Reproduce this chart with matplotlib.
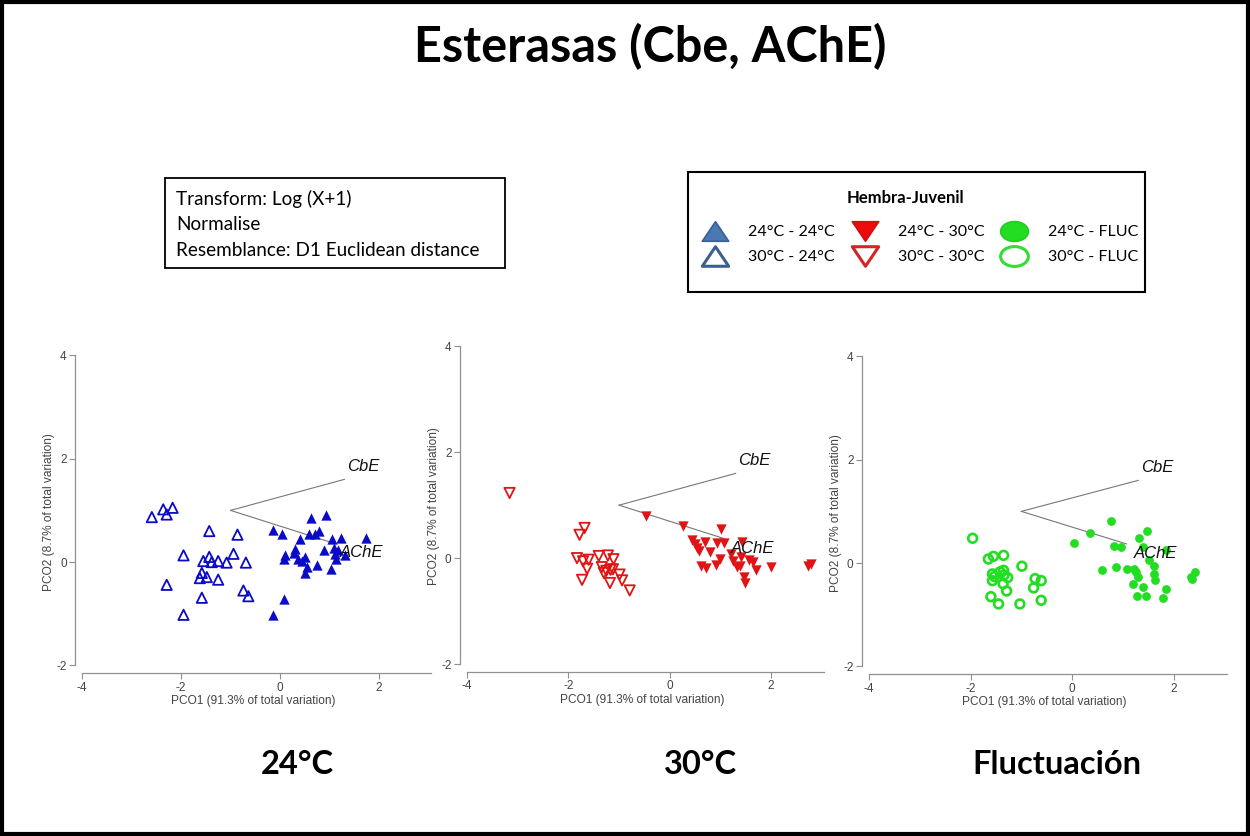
import matplotlib
matplotlib.use("Agg")
import matplotlib.pyplot as plt
from matplotlib.lines import Line2D
from matplotlib.patches import Rectangle
from matplotlib.path import Path
from matplotlib.transforms import Affine2D

plt.rcParams['axes.unicode_minus'] = False

# PCO scores, one pair of lists per group (x = PCO1, y = PCO2)
t24_24_x = [-0.15, 0.03, -0.15, 0.07, 0.10, 0.09, 0.30, 0.28, 0.40, 0.37, 0.44, 0.51, 0.54, 0.51,
            0.63, 0.59, 0.71, 0.79, 0.93, 0.75, 0.89, 1.03, 1.04, 1.09, 1.11, 1.18, 1.23, 1.14, 1.31, 1.74]
t24_24_y = [0.63, 0.55, -1.03, -0.71, 0.13, 0.06, 0.26, 0.17, 0.44, 0.06, 0.02, 0.10, -0.10, -0.21,
            0.85, 0.55, 0.55, 0.60, 0.92, -0.05, 0.24, -0.14, 0.44, 0.28, 0.16, 0.24, 0.47, 0.06, 0.13, 0.47]
t30_24_x = [-2.59, -2.36, -2.29, -2.17, -1.95, -2.29, -1.95, -1.43, -1.43, -1.55, -1.38, -1.25,
            -1.08, -1.58, -1.62, -1.48, -1.25, -1.58, -0.94, -0.86, -0.69, -0.74, -0.64]
t30_24_y = [0.87, 1.02, 0.92, 1.05, 0.13, -0.44, -1.02, 0.60, 0.10, 0.02, 0.00, 0.02,
            -0.01, -0.21, -0.31, -0.29, -0.34, -0.69, 0.16, 0.53, -0.01, -0.55, -0.66]

t24_30_x = [-0.47, 0.26, 0.44, 0.49, 0.53, 0.57, 0.70, 0.61, 0.72, 0.80, 0.93, 0.92, 0.99, 1.02,
            1.07, 1.20, 1.25, 1.38, 1.43, 1.41, 1.56, 1.64, 1.47, 1.49, 1.71, 1.99, 2.73, 2.79, 1.33]
t24_30_y = [0.79, 0.60, 0.35, 0.26, 0.19, 0.13, 0.30, -0.14, -0.18, 0.11, 0.28, -0.13, -0.02, 0.55,
            0.28, 0.08, -0.06, -0.14, 0.30, 0.03, -0.03, -0.08, -0.35, -0.47, -0.23, -0.16, -0.14, -0.12, -0.17]
t30_30_x = [-3.16, -1.78, -1.68, -1.83, -1.71, -1.60, -1.63, -1.73, -1.40, -1.22, -1.11, -1.34,
            -1.30, -1.17, -1.12, -1.18, -0.99, -0.94, -0.79, -1.25]
t30_30_y = [1.23, 0.44, 0.57, 0.00, -0.06, -0.03, -0.20, -0.41, 0.04, 0.05, -0.02, -0.17,
            -0.28, -0.22, -0.21, -0.47, -0.31, -0.42, -0.61, -0.24]

t24_fl_x = [0.03, 0.36, 0.76, 0.82, 0.96, 0.59, 0.87, 1.07, 1.22, 1.25, 1.30, 1.20, 1.27, 1.32,
            1.48, 1.40, 1.52, 1.40, 1.46, 1.61, 1.61, 1.63, 1.85, 1.85, 1.78, 2.33, 2.42, 2.35]
t24_fl_y = [0.39, 0.59, 0.81, 0.33, 0.31, -0.14, -0.08, -0.11, -0.11, -0.17, -0.27, -0.40, -0.64, 0.49,
            0.62, 0.31, 0.05, -0.46, -0.64, -0.06, -0.21, -0.32, 0.26, -0.50, -0.67, -0.27, -0.17, -0.30]
t30_fl_x = [-1.96, -1.65, -1.55, -1.35, -1.57, -1.53, -1.57, -1.35, -1.34, -1.27, -1.36, -1.29,
            -1.60, -1.45, -0.99, -0.73, -0.61, -0.76, -0.61, -1.03, -1.42]
t30_fl_y = [0.48, 0.08, 0.13, 0.15, -0.21, -0.26, -0.34, -0.14, -0.23, -0.28, -0.40, -0.54,
            -0.65, -0.79, -0.06, -0.30, -0.34, -0.48, -0.72, -0.79, -0.17]

# vector overlay (origin and tips of CbE / AChE)
vec_origin = (-1.0, 1.0)
vec_names = ['CbE', 'AChE']
vec_tips = [(1.30, 1.60), (1.07, 0.37)]
vec_labels = [(1.35, 1.84), (1.21, 0.19)]

panel_titles = ['24°C', '30°C', 'Fluctuación']
legend_labels = ['24°C - 24°C', '30°C - 24°C', '24°C - 30°C', '30°C - 30°C', '24°C - FLUC', '30°C - FLUC']
info_lines = ['Transform: Log (X+1)', 'Normalise', 'Resemblance: D1 Euclidean distance']

BLUE = '#0a0ac8'
RED = '#e01414'
GREEN = '#22dd22'

fig = plt.figure(figsize=(12.5, 8.36), dpi=100)

rects = [[0.0601, 0.1947, 0.2847, 0.3865],
         [0.3679, 0.1962, 0.2916, 0.3959],
         [0.6895, 0.1935, 0.2922, 0.3865]]

groups = [
    (t24_24_x, t24_24_y, t30_24_x, t30_24_y, '^', BLUE, 55),
    (t24_30_x, t24_30_y, t30_30_x, t30_30_y, 'v', RED, 55),
    (t24_fl_x, t24_fl_y, t30_fl_x, t30_fl_y, 'o', GREEN, 40),
]

for rect, (fx, fy, ox, oy, mk, col, size) in zip(rects, groups):
    ax = fig.add_axes(rect)
    ax.set_xlim(-4.14, 3.05)
    ax.set_ylim(-2.15, 4.1)
    for s in ['top', 'right']:
        ax.spines[s].set_visible(False)
    ax.spines['left'].set_bounds(-2, 4)
    ax.spines['bottom'].set_bounds(-4, 3.05)
    for s in ['left', 'bottom']:
        ax.spines[s].set_color('#909090')
        ax.spines[s].set_linewidth(0.9)
    ax.set_xticks([-4, -2, 0, 2])
    ax.set_yticks([-2, 0, 2, 4])
    ax.tick_params(colors='#909090', labelcolor='#444444', labelsize=8.5, length=4, width=0.8, pad=2)
    for lbl in ax.get_xticklabels() + ax.get_yticklabels():
        lbl.set_family('Liberation Sans')
    ax.set_xlabel('PCO1 (91.3% of total variation)', fontsize=8.6, color='#444444',
                  family='Liberation Sans', labelpad=1)
    ax.set_ylabel('PCO2 (8.7% of total variation)', fontsize=8.6, color='#444444',
                  family='Liberation Sans', labelpad=1)

    ax.scatter(ox, oy, marker=mk, s=size, facecolors='none', edgecolors=col,
               linewidths=1.3 if mk != 'o' else 1.9, zorder=3)
    ax.scatter(fx, fy, marker=mk, s=size, color=col, linewidths=0, zorder=3)

    for name, tip, pos in zip(vec_names, vec_tips, vec_labels):
        ax.plot([vec_origin[0], tip[0]], [vec_origin[1], tip[1]], color='#777777', lw=0.8, zorder=2)
        ax.text(pos[0], pos[1], name, fontsize=12, style='italic', family='Liberation Sans',
                va='center', ha='left', color='#111111', zorder=4)

# titles under each panel
for xc, title in zip([0.238, 0.560, 0.8456], panel_titles):
    fig.text(xc, 0.085, title, fontsize=23.5, weight='bold', family='Lato', ha='center', va='center')

fig.text(0.52, 1 - 47 / 836, 'Esterasas (Cbe, AChE)', fontsize=35, weight='bold', family='Lato',
         ha='center', va='center')

# info box
fig.patches.append(Rectangle((0.132, 0.6794), 0.272, 0.1077, transform=fig.transFigure,
                             facecolor='white', edgecolor='black', lw=1.3, figure=fig))
fig.text(0.1408, 1 - 190 / 836, '\n'.join(info_lines), fontsize=13.6, family='Lato', va='top',
         ha='left', linespacing=1.6)

# legend
ellipse = Path.unit_circle().transformed(Affine2D().scale(1.4, 1.0))
tri_up = Path([(-1.35, -1.0), (1.35, -1.0), (0.0, 1.0), (-1.35, -1.0)], closed=True)
tri_dn = Path([(-1.35, 1.0), (1.35, 1.0), (0.0, -1.0), (-1.35, 1.0)], closed=True)
handles = [
    Line2D([], [], ls='none', marker=tri_up, ms=19, mfc='#4a78b2', mec='#3a5f93', mew=1.2),
    Line2D([], [], ls='none', marker=tri_up, ms=19, mfc='white', mec='#3a5f93', mew=2.2),
    Line2D([], [], ls='none', marker=tri_dn, ms=19, mfc='#ee0a0a', mec='#d01010', mew=1.2),
    Line2D([], [], ls='none', marker=tri_dn, ms=19, mfc='white', mec='#d42424', mew=2.2),
    Line2D([], [], ls='none', marker=ellipse, ms=20, mfc='#22dd22', mec='#22cc22', mew=1.2),
    Line2D([], [], ls='none', marker=ellipse, ms=20, mfc='white', mec='#33dd33', mew=2.2),
]
fig.patches.append(Rectangle((0.5504, 0.6507), 0.3656, 0.1435, transform=fig.transFigure,
                             facecolor='white', edgecolor='black', lw=1.5, figure=fig))
fig.text(0.724, 1 - 198 / 836, 'Hembra-Juvenil', fontsize=12, weight='bold', family='Lato',
         ha='center', va='center')
fig.legend(handles, legend_labels, ncol=3, loc='upper left', bbox_to_anchor=(698 / 1250, 1 - 225 / 836),
           frameon=False, prop={'family': 'Lato', 'size': 11.5}, borderpad=0, borderaxespad=0,
           handlelength=2.1, handletextpad=1.05, columnspacing=0.8, labelspacing=0.68)

# outer frame
fig.patches.append(Rectangle((0.0015, 0.002), 0.997, 0.9955, transform=fig.transFigure,
                             facecolor='none', edgecolor='black', lw=3, figure=fig))

fig.savefig('out.png', dpi=100)
